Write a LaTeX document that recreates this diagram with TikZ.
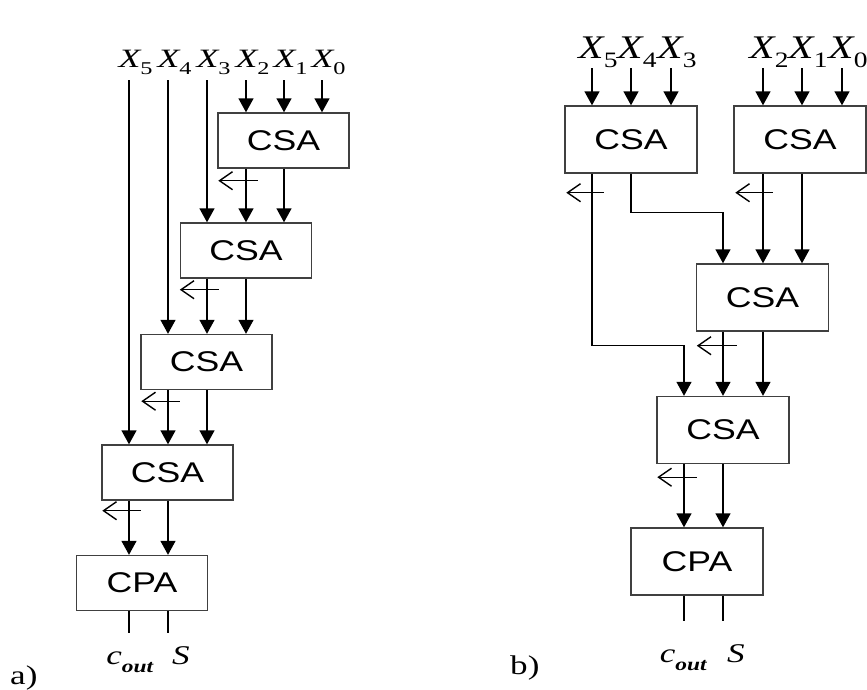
\documentclass[tikz,border=0pt]{standalone}
\usepackage{fontspec}
\usepackage{graphicx}
\setmainfont{Liberation Serif}
\newfontfamily\arialf{Liberation Sans}
\usetikzlibrary{arrows.meta,calc}
\newcommand\wide[1]{\scalebox{1.25}[1]{#1}}
\newcommand\sxa[1]{\scalebox{1.35}[1]{#1}}
\newcommand\sxb[1]{\scalebox{1.25}[1]{#1}}
\newcommand\sxc[1]{\scalebox{1.3}[1]{#1}}
\newcommand\xlab[1]{\sxa{\textit{X}\kern-1pt\raisebox{-7.5pt}{\fontsize{18}{18}\selectfont #1}}}
\newcommand\xlabb[1]{\sxb{\textit{X}\kern-1pt\raisebox{-9pt}{\fontsize{22}{22}\selectfont #1}}}
\newcommand\coutlab{\sxc{\textit{c}\raisebox{-8pt}{\fontsize{18}{18}\selectfont\textit{\textbf{out}}}}}
\tikzset{
  box/.style={draw=black!75, line width=1.4pt, minimum width=131pt, minimum height=55pt, inner sep=0pt, font=\arialf\fontsize{28.5}{28.5}\selectfont},
  boxb/.style={box, minimum width=132pt, minimum height=67pt},
  arr/.style={line width=1.4pt, -{Triangle[length=14pt,width=15pt]}},
  wire/.style={line width=1.4pt},
  carry/.style={line width=1.4pt, {Straight Barb[length=13pt,width=18pt]}-},
  lbla/.style={font=\fontsize{26.5}{26.5}\selectfont, inner sep=0pt, anchor=base},
  lblb/.style={font=\fontsize{33}{33}\selectfont, inner sep=0pt, anchor=base},
  outl/.style={font=\fontsize{27}{27}\selectfont, inner sep=0pt, anchor=base},
}
\begin{document}
\begin{tikzpicture}[x=1pt,y=-1pt]
\useasboundingbox (0,0) rectangle (867,689);
% ---------------- part a ----------------
\coordinate (sa0) at (322,80);
\coordinate (sa1) at (284,80);
\coordinate (sa2) at (246,80);
\coordinate (sa3) at (207,80);
\coordinate (sa4) at (168,80);
\coordinate (sa5) at (129,80);
\node[lbla] (xa5) at (135.5,67) {\xlab{5}};
\node[lbla] (xa4) at (174.5,67) {\xlab{4}};
\node[lbla] (xa3) at (213.5,67) {\xlab{3}};
\node[lbla] (xa2) at (252.5,67) {\xlab{2}};
\node[lbla] (xa1) at (290.5,67) {\xlab{1}};
\node[lbla] (xa0) at (328.5,67) {\xlab{0}};
\node[box] (A1) at (283.5,140.5) {\wide{CSA}};
\node[box] (A2) at (246,250.5) {\wide{CSA}};
\node[box] (A3) at (206.5,362) {\wide{CSA}};
\node[box] (A4) at (167.5,472.5) {\wide{CSA}};
\node[box] (A5) at (142,583) {\wide{CPA}};
\draw[arr] (sa2) -- (sa2 |- A1.north);
\draw[arr] (sa1) -- (sa1 |- A1.north);
\draw[arr] (sa0) -- (sa0 |- A1.north);
\draw[arr] (sa3) -- (sa3 |- A2.north);
\draw[arr] (sa4) -- (sa4 |- A3.north);
\draw[arr] (sa5) -- (sa5 |- A4.north);
\draw[arr] (A1.south -| sa2) -- (sa2 |- A2.north);
\draw[arr] (A1.south -| sa1) -- (sa1 |- A2.north);
\draw[arr] (A2.south -| sa3) -- (sa3 |- A3.north);
\draw[arr] (A2.south -| sa2) -- (sa2 |- A3.north);
\draw[arr] (A3.south -| sa4) -- (sa4 |- A4.north);
\draw[arr] (A3.south -| sa3) -- (sa3 |- A4.north);
\draw[arr] (A4.south -| sa5) -- (sa5 |- A5.north);
\draw[arr] (A4.south -| sa4) -- (sa4 |- A5.north);
\draw[carry] ($(A1.south west)+(1,12)$) -- ++(40,0);
\draw[carry] ($(A2.south west)+(0,11)$) -- ++(39,0);
\draw[carry] ($(A3.south west)+(1,11)$) -- ++(39,0);
\draw[carry] ($(A4.south west)+(1,10)$) -- ++(39,0);
\coordinate (ea5) at ($(A5.south -| sa5)+(0,22)$);
\coordinate (ea4) at ($(A5.south -| sa4)+(0,22)$);
\draw[wire] (A5.south -| sa5) -- (ea5);
\draw[wire] (A5.south -| sa4) -- (ea4);
\node[outl] (coa) at (130,664) {\coutlab};
\node[outl] (sa) at (181,664) {\sxc{\textit{S}}};
\node[outl, anchor=base west] (la) at (10,684) {\sxc{a)}};
% ---------------- part b ----------------
\coordinate (sb0) at (842,68);
\coordinate (sb1) at (802,68);
\coordinate (sb2) at (763,68);
\coordinate (sb3) at (671,68);
\coordinate (sb4) at (631,68);
\coordinate (sb5) at (592,68);
\coordinate (qa) at (684,0);
\coordinate (qb) at (723,0);
\node[lblb] (xb5) at (598,58) {\xlabb{5}};
\node[lblb] (xb4) at (637,58) {\xlabb{4}};
\node[lblb] (xb3) at (677,58) {\xlabb{3}};
\node[lblb] (xb2) at (769,58) {\xlabb{2}};
\node[lblb] (xb1) at (808,58) {\xlabb{1}};
\node[lblb] (xb0) at (848,58) {\xlabb{0}};
\node[boxb] (B1) at (631,139.5) {\wide{CSA}};
\node[boxb] (B2) at (800,139.5) {\wide{CSA}};
\node[boxb] (B3) at (762.5,297.5) {\wide{CSA}};
\node[boxb] (B4) at (723,430) {\wide{CSA}};
\node[boxb] (B5) at (697,561.5) {\wide{CPA}};
\draw[arr] (sb5) -- (sb5 |- B1.north);
\draw[arr] (sb4) -- (sb4 |- B1.north);
\draw[arr] (sb3) -- (sb3 |- B1.north);
\draw[arr] (sb2) -- (sb2 |- B2.north);
\draw[arr] (sb1) -- (sb1 |- B2.north);
\draw[arr] (sb0) -- (sb0 |- B2.north);
\draw[arr] (B1.south -| sb4) -- ++(0,39) -| (qb |- B3.north);
\draw[arr] (B1.south -| sb5) -- ++(0,172) -| (qa |- B4.north);
\draw[arr] (B2.south -| sb2) -- (sb2 |- B3.north);
\draw[arr] (B2.south -| sb1) -- (sb1 |- B3.north);
\draw[arr] (B3.south -| qb) -- (qb |- B4.north);
\draw[arr] (B3.south -| sb2) -- (sb2 |- B4.north);
\draw[arr] (B4.south -| qa) -- (qa |- B5.north);
\draw[arr] (B4.south -| qb) -- (qb |- B5.north);
\draw[carry] ($(B1.south west)+(2,19)$) -- ++(38,0);
\draw[carry] ($(B2.south west)+(2,19)$) -- ++(38,0);
\draw[carry] ($(B3.south west)+(1,14)$) -- ++(40,0);
\draw[carry] ($(B4.south west)+(1,13)$) -- ++(40,0);
\coordinate (eb5) at ($(B5.south -| qa)+(0,25)$);
\coordinate (eb4) at ($(B5.south -| qb)+(0,25)$);
\draw[wire] (B5.south -| qa) -- (eb5);
\draw[wire] (B5.south -| qb) -- (eb4);
\node[outl] (cob) at (683.5,662) {\coutlab};
\node[outl] (sbl) at (736,662) {\sxc{\textit{S}}};
\node[outl, anchor=base west] (lb) at (510,674) {\sxc{b)}};
\end{tikzpicture}
\end{document}
